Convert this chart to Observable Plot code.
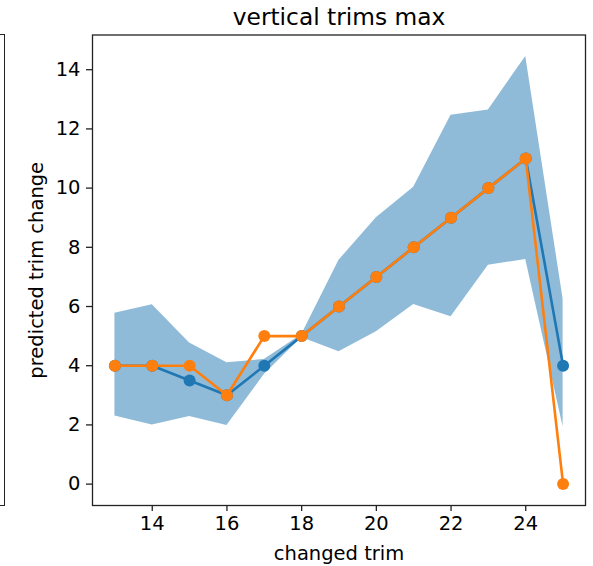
<!DOCTYPE html>
<html>
<head>
<meta charset="utf-8">
<script src="https://cdn.jsdelivr.net/npm/d3@7"></script>
<script src="https://cdn.jsdelivr.net/npm/@observablehq/plot@0.6"></script>
<style>
  html, body { margin: 0; padding: 0; background: #fff; }
  #wrap { position: relative; width: 593px; height: 566px; font-family: "DejaVu Sans", sans-serif; }
  #left-frame { position: absolute; left: -10px; top: 34px; width: 14px; height: 470px; border: 1.3px solid #222; border-left: none; box-sizing: content-box; }
  #chart { position: absolute; left: 0; top: 0; }
</style>
</head>
<body>
<div id="wrap">
  <div id="left-frame"></div>
  <div id="chart"></div>
</div>
<script>
const title = "vertical trims max";
const xLabel = "changed trim";
const yLabel = "predicted trim change";

const trims = [13, 14, 15, 16, 17, 18, 19, 20, 21, 22, 23, 24, 25];
const seriesA = [4, 4, 3.5, 3, 4, 5, 6, 7, 8, 9, 10, 11, 4];
const seriesB = [4, 4, 4, 3, 5, 5, 6, 7, 8, 9, 10, 11, 0];
const bandLower = [2.3, 2.0, 2.28, 1.98, 3.7, 4.95, 4.47, 5.15, 6.07, 5.65, 7.39, 7.59, 1.94];
const bandUpper = [5.77, 6.06, 4.77, 4.1, 4.21, 5.05, 7.56, 9.0, 10.03, 12.46, 12.64, 14.45, 6.25];
const xTicks = [14, 16, 18, 20, 22, 24];
const yTicks = [0, 2, 4, 6, 8, 10, 12, 14];

const blue = "#1f77b4";
const orange = "#ff7f0e";

const rows = trims.map((t, i) => ({t, a: seriesA[i], b: seriesB[i], lo: bandLower[i], hi: bandUpper[i]}));

function padded(vals) {
  const [lo, hi] = d3.extent(vals);
  const m = (hi - lo) * 0.05;
  return [lo - m, hi + m];
}
const xDomain = padded(trims);
const yDomain = padded([...seriesA, ...seriesB, ...bandLower, ...bandUpper]);

const fs = 19.5;

const chart = Plot.plot({
  width: 593,
  height: 566,
  marginLeft: 92,
  marginRight: 8,
  marginTop: 34.5,
  marginBottom: 61,
  style: {fontFamily: "'DejaVu Sans', sans-serif", fontSize: fs + "px", color: "#000", background: "transparent"},
  x: {domain: xDomain},
  y: {domain: yDomain},
  marks: [
    Plot.areaY(rows, {x: "t", y1: "lo", y2: "hi", fill: blue, fillOpacity: 0.5}),
    Plot.line(rows, {x: "t", y: "a", stroke: blue, strokeWidth: 2.6}),
    Plot.dot(rows, {x: "t", y: "a", r: 6, fill: blue, stroke: "none"}),
    Plot.line(rows, {x: "t", y: "b", stroke: orange, strokeWidth: 2.6}),
    Plot.dot(rows, {x: "t", y: "b", r: 6, fill: orange, stroke: "none"}),
    Plot.frame({stroke: "#222", strokeWidth: 1.3}),
    Plot.axisX({ticks: xTicks, tickSize: 6, tickPadding: 5, label: null, fontSize: fs, stroke: "#222", strokeWidth: 1.3}),
    Plot.axisY({ticks: yTicks, tickSize: 6, tickPadding: 6, label: null, fontSize: fs, stroke: "#222", strokeWidth: 1.3}),
    Plot.text([xLabel], {frameAnchor: "bottom", lineAnchor: "middle", textAnchor: "middle", dy: 48, fontSize: fs, fill: "#000"}),
    Plot.text([yLabel], {frameAnchor: "left", lineAnchor: "middle", textAnchor: "middle", dx: -56, rotate: -90, fontSize: fs, fill: "#000"}),
    Plot.text([title], {frameAnchor: "top", lineAnchor: "middle", textAnchor: "middle", dy: -17.5, fontSize: 23.3, fill: "#000"})
  ]
});
document.getElementById("chart").appendChild(chart);
</script>
</body>
</html>
